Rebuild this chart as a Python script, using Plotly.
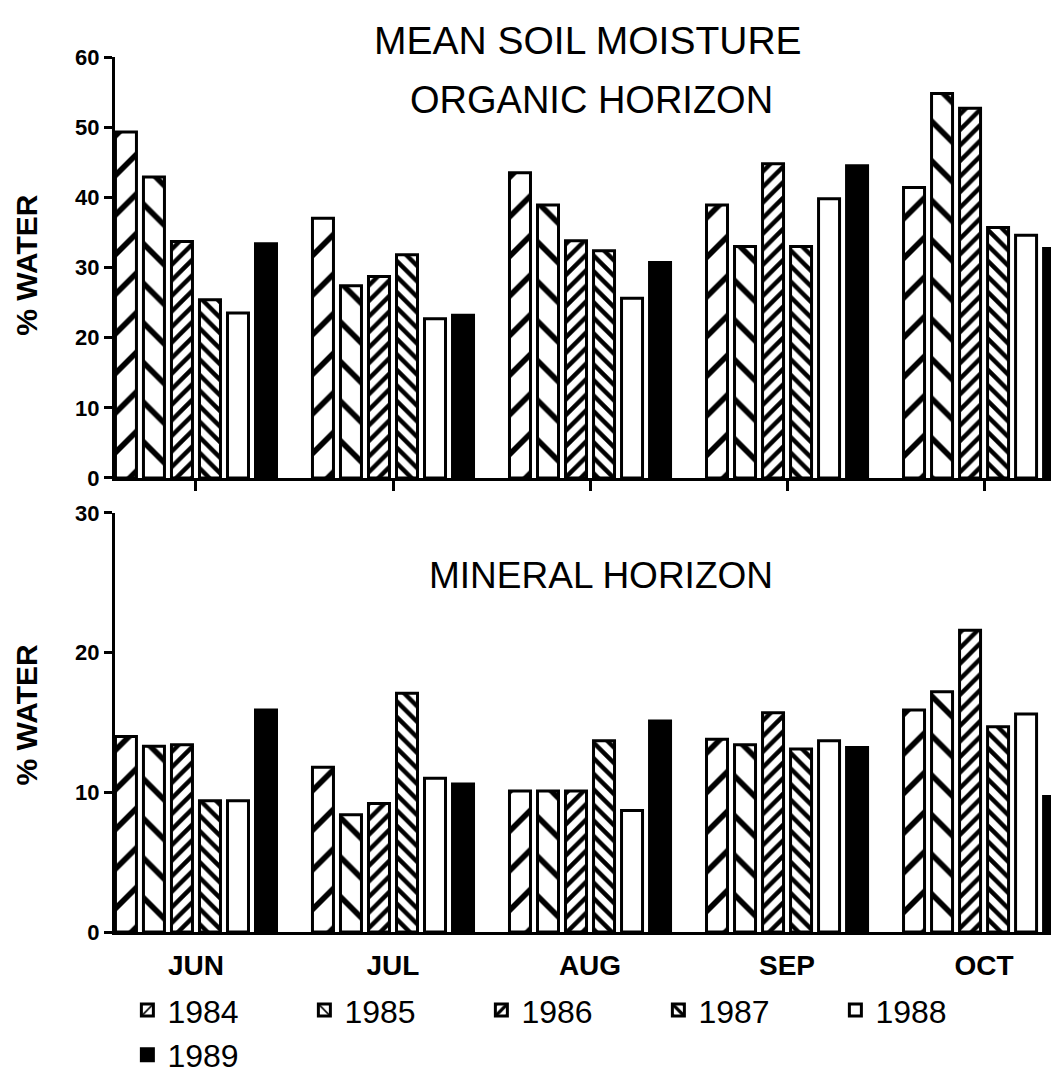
import plotly.graph_objects as go

months = ["JUN", "JUL", "AUG", "SEP", "OCT"]
years = ["1984", "1985", "1986", "1987", "1988", "1989"]

organic_1984 = [49.3, 37.0, 43.5, 38.9, 41.4]
organic_1985 = [42.9, 27.4, 38.9, 33.0, 54.8]
organic_1986 = [33.7, 28.7, 33.8, 44.8, 52.7]
organic_1987 = [25.4, 31.8, 32.4, 33.0, 35.7]
organic_1988 = [23.5, 22.7, 25.6, 39.8, 34.6]
organic_1989 = [33.4, 23.2, 30.7, 44.5, 32.7]

mineral_1984 = [14.0, 11.8, 10.1, 13.8, 15.9]
mineral_1985 = [13.3, 8.4, 10.1, 13.4, 17.2]
mineral_1986 = [13.4, 9.2, 10.1, 15.7, 21.6]
mineral_1987 = [9.4, 17.1, 13.7, 13.1, 14.7]
mineral_1988 = [9.4, 11.0, 8.7, 13.7, 15.6]
mineral_1989 = [15.9, 10.6, 15.1, 13.2, 9.7]

organic = [organic_1984, organic_1985, organic_1986, organic_1987, organic_1988, organic_1989]
mineral = [mineral_1984, mineral_1985, mineral_1986, mineral_1987, mineral_1988, mineral_1989]

organic_ticks = [0, 10, 20, 30, 40, 50, 60]
mineral_ticks = [0, 10, 20, 30]

FONT = "Liberation Sans, Arial, sans-serif"


def marker_for(i):
    base = dict(line=dict(color="black", width=3))
    pat = dict(fgcolor="black", bgcolor="white", fgopacity=1, fillmode="replace")
    if i == 0:
        base.update(color="white", pattern=dict(shape="/", size=28, solidity=0.2, **pat))
    elif i == 1:
        base.update(color="white", pattern=dict(shape="\\", size=28, solidity=0.2, **pat))
    elif i == 2:
        base.update(color="white", pattern=dict(shape="/", size=11, solidity=0.4, **pat))
    elif i == 3:
        base.update(color="white", pattern=dict(shape="\\", size=11, solidity=0.4, **pat))
    elif i == 4:
        base.update(color="white")
    else:
        base.update(color="black")
    return base


fig = go.Figure()
for i, yr in enumerate(years):
    fig.add_trace(go.Bar(x=months, y=organic[i], name=yr, legendgroup=yr,
                         marker=marker_for(i), xaxis="x", yaxis="y"))
    fig.add_trace(go.Bar(x=months, y=mineral[i], name=yr, legendgroup=yr, showlegend=False,
                         marker=marker_for(i), xaxis="x2", yaxis="y2"))

xrange = [-0.411, 4.421]
top_dom = [0.5189, 1.0]
bot_dom = [0.0, 0.4789]

common_y = dict(showline=True, linewidth=3, linecolor="black", ticks="outside", ticklen=8,
                tickwidth=3, tickcolor="black", showgrid=False, zeroline=False,
                tickfont=dict(family=FONT, size=22, color="black", weight="bold"))

fig.update_layout(
    width=1059, height=1084,
    margin=dict(l=107, r=0, t=49, b=160),
    paper_bgcolor="white", plot_bgcolor="white",
    barmode="group", bargap=0.147, bargroupgap=0.25,
    font=dict(family=FONT, color="black"),
    xaxis=dict(domain=[0, 1], anchor="y", range=xrange, showline=True, linewidth=3, linecolor="black",
               ticks="outside", ticklen=10, tickwidth=3, tickcolor="black", showticklabels=False,
               showgrid=False, zeroline=False),
    yaxis=dict(domain=top_dom, anchor="x", range=[0, 60], tickvals=organic_ticks, **common_y),
    xaxis2=dict(domain=[0, 1], anchor="y2", range=xrange, showline=True, linewidth=3, linecolor="black",
                ticks="", showgrid=False, zeroline=False, ticklabelstandoff=6,
                tickfont=dict(family=FONT, size=28, color="black", weight="bold")),
    yaxis2=dict(domain=bot_dom, anchor="x2", range=[0, 30], tickvals=mineral_ticks, **common_y),
    legend=dict(orientation="h", x=0.013, xanchor="left", y=-0.058, yanchor="top",
                entrywidth=132, font=dict(family=FONT, size=32, color="black"),
                bgcolor="rgba(0,0,0,0)", tracegroupgap=0),
    showlegend=True,
)

annotations = [
    dict(text="MEAN SOIL MOISTURE", x=0.497, y=1.019, size=39, weight="normal", angle=0),
    dict(text="ORGANIC HORIZON", x=0.500, y=0.951, size=38, weight="normal", angle=0),
    dict(text="MINERAL HORIZON", x=0.511, y=0.408, size=37, weight="normal", angle=0),
    dict(text="% WATER", x=-0.093, y=0.762, size=30, weight="bold", angle=-90),
    dict(text="% WATER", x=-0.093, y=0.248, size=30, weight="bold", angle=-90),
]
for a in annotations:
    fig.add_annotation(text=a["text"], xref="paper", yref="paper", x=a["x"], y=a["y"],
                       xanchor="center", yanchor="middle", showarrow=False, textangle=a["angle"],
                       font=dict(family=FONT, size=a["size"], color="black", weight=a["weight"]))

fig.write_html("out.html")
